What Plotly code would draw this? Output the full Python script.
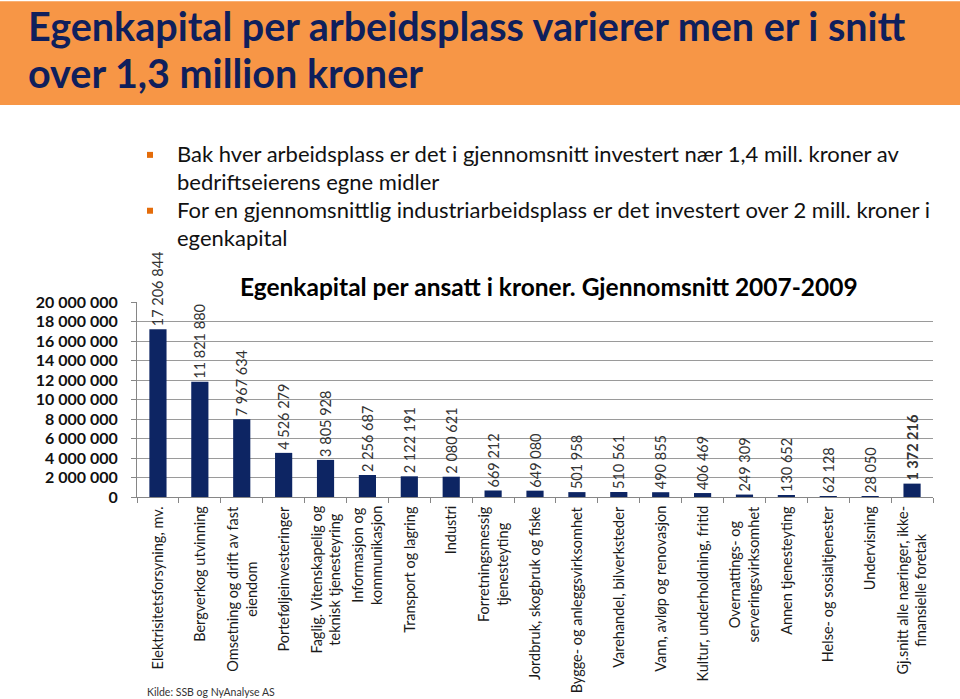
import plotly.graph_objects as go

# ---------------- data ----------------
categories = [
    "Elektrisitetsforsyning, mv.",
    "Bergverkog utvinning",
    "Omsetning og drift av fast<br>eiendom",
    "Porteføljeinvesteringer",
    "Faglig. Vitenskapelig og<br>teknisk tjenesteyring",
    "Informasjon og<br>kommunikasjon",
    "Transport og lagring",
    "Industri",
    "Forretningsmessig<br>tjenesteyting",
    "Jordbruk, skogbruk og fiske",
    "Bygge- og anleggsvirksomhet",
    "Varehandel, bilverksteder",
    "Vann, avløp og renovasjon",
    "Kultur, underholdning, fritid",
    "Overnattings- og<br>serveringsvirksomhet",
    "Annen tjenesteyting",
    "Helse- og sosialtjenester",
    "Undervisning",
    "Gj.snitt alle næringer, ikke-<br>finansielle foretak",
]
values = [17206844, 11821880, 7967634, 4526279, 3805928, 2256687, 2122191,
          2080621, 669212, 649080, 501958, 510561, 490855, 406469, 249309,
          130652, 62128, 28050, 1372216]
value_labels = ["17 206 844", "11 821 880", "7 967 634", "4 526 279", "3 805 928",
                "2 256 687", "2 122 191", "2 080 621", "669 212", "649 080",
                "501 958", "510 561", "490 855", "406 469", "249 309",
                "130 652", "62 128", "28 050", "<b>1 372 216</b>"]
y_tickvals = [0, 2e6, 4e6, 6e6, 8e6, 10e6, 12e6, 14e6, 16e6, 18e6, 20e6]
y_ticktext = ["0", "2 000 000", "4 000 000", "6 000 000", "8 000 000", "10 000 000",
              "12 000 000", "14 000 000", "16 000 000", "18 000 000", "20 000 000"]

header_lines = ["Egenkapital per arbeidsplass varierer men er i snitt",
                "over 1,3 million kroner"]
bullet_lines = ["Bak hver arbeidsplass er det i gjennomsnitt investert nær 1,4 mill. kroner av",
                "bedriftseierens egne midler",
                "For en gjennomsnittlig industriarbeidsplass er det investert over 2 mill. kroner i",
                "egenkapital"]
chart_title = "Egenkapital per ansatt i kroner. Gjennomsnitt 2007-2009"
source_text = "Kilde: SSB og NyAnalyse AS"

# ---------------- layout geometry ----------------
W, H = 960, 699
L, R, T, B = 137, 27, 301.5, 202
PW = W - L - R
PH = H - T - B


def xp(px):
    return (px - L) / PW


def yp(py):
    return (H - B - py) / PH


FONT = "Lato, 'Open Sans', sans-serif"
NAVY = "#0f1f5c"
BAR = "#0d2563"
ORANGE = "#f79646"
BULLET = "#e46c0a"
GRID = "#9a9a9a"

fig = go.Figure(
    go.Bar(
        x=categories,
        y=values,
        text=value_labels,
        textposition="outside",
        textangle=-90,
        constraintext="none",
        cliponaxis=False,
        textfont=dict(family=FONT, size=14.5, color="#333333"),
        marker=dict(color=BAR, line=dict(width=0)),
        hoverinfo="skip",
    )
)

shapes = [
    dict(type="rect", xref="paper", yref="paper", x0=xp(0), x1=xp(W), y0=yp(104), y1=yp(0),
         fillcolor=ORANGE, line=dict(width=0), layer="below"),
]
for by in (154, 210):
    shapes.append(dict(type="rect", xref="paper", yref="paper",
                       x0=xp(147), x1=xp(153), y0=yp(by + 3), y1=yp(by - 3),
                       fillcolor=BULLET, line=dict(width=0)))

annotations = []
for i, line in enumerate(header_lines):
    center = [24.5, 71.5][i]
    annotations.append(dict(text=line, xref="paper", yref="paper", x=xp(26), y=yp(center),
                            xanchor="left", yanchor="middle", showarrow=False,
                            font=dict(family=FONT, size=39.5, color=NAVY, weight="bold")))
for i, line in enumerate(bullet_lines):
    center = [153, 181, 209, 237][i]
    annotations.append(dict(text=line, xref="paper", yref="paper", x=xp(175), y=yp(center),
                            xanchor="left", yanchor="middle", showarrow=False,
                            font=dict(family=FONT, size=22, color="#111111")))
annotations.append(dict(text=chart_title, xref="paper", yref="paper", x=xp(549), y=yp(285.5),
                        xanchor="center", yanchor="middle", showarrow=False,
                        font=dict(family=FONT, size=24.5, color="#000000", weight="bold")))
annotations.append(dict(text=source_text, xref="paper", yref="paper", x=xp(145), y=yp(692),
                        xanchor="left", yanchor="middle", showarrow=False,
                        font=dict(family=FONT, size=10.5, color="#333333")))
# category labels, rotated, lines centred (placed on the category axis)
for cat in categories:
    annotations.append(dict(text=cat, xref="x", yref="paper", x=cat, y=yp(504),
                            xanchor="center", yanchor="top", textangle=-90, align="center",
                            showarrow=False,
                            font=dict(family=FONT, size=14.5, color="#1a1a1a")))

fig.update_layout(
    width=W, height=H,
    margin=dict(l=L, r=R, t=T, b=B, pad=0),
    paper_bgcolor="white", plot_bgcolor="white",
    bargap=0.59,
    showlegend=False,
    shapes=shapes,
    annotations=annotations,
    font=dict(family=FONT),
)
fig.update_xaxes(
    type="category",
    showticklabels=False,
    ticks="outside", tickson="boundaries", ticklen=5, tickcolor="#868686",
    showline=True, linecolor="#868686", linewidth=1,
    showgrid=False, automargin=False,
)
fig.update_yaxes(
    range=[0, 20e6],
    tickvals=y_tickvals, ticktext=y_ticktext,
    tickfont=dict(family=FONT, size=16, color="#111111", weight="bold"),
    ticks="outside", ticklen=5, tickcolor="#868686",
    ticklabelstandoff=10,
    showline=True, linecolor="#868686", linewidth=1,
    showgrid=True, gridcolor=GRID, gridwidth=1,
    zeroline=False, automargin=False,
)

fig.write_html("out.html")
